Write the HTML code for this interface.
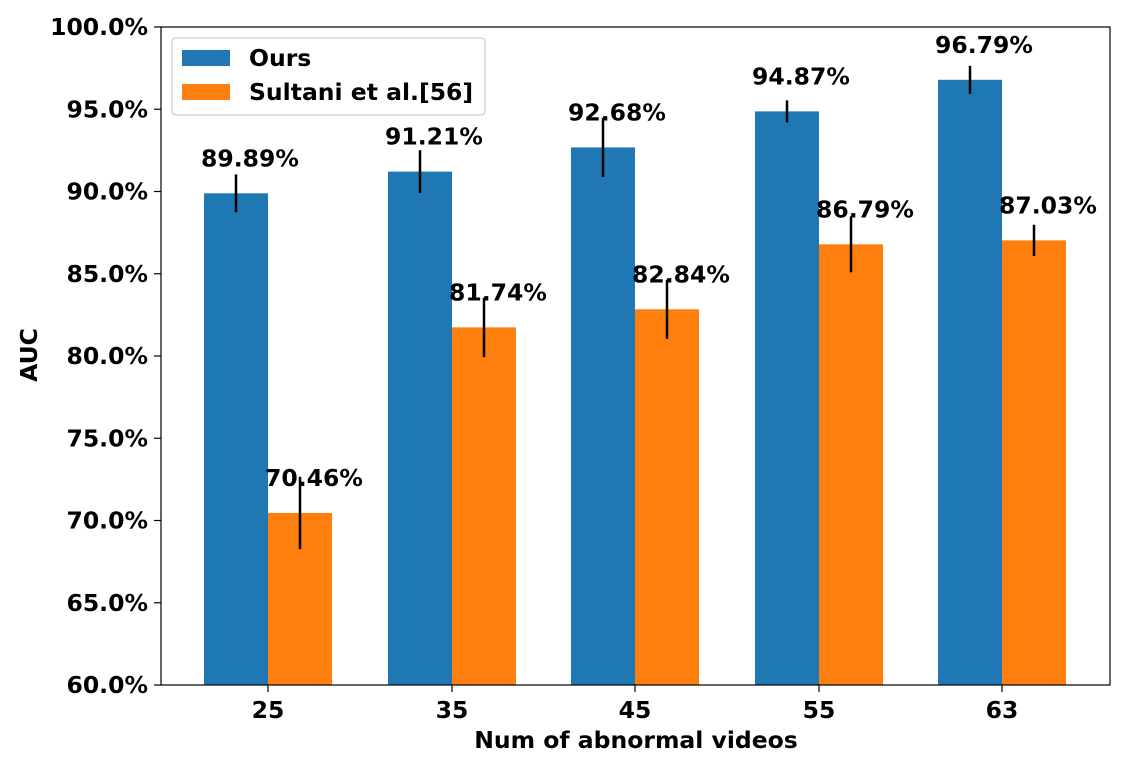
<!DOCTYPE html>
<html><head><meta charset="utf-8"><style>body{margin:0;background:#fff}svg{display:block}text{font-family:"DejaVu Sans","Liberation Sans",sans-serif;font-weight:bold}</style></head>
<body>
<svg width="1122" height="758" xmlns="http://www.w3.org/2000/svg">
<rect width="1122" height="758" fill="#fff"/>
<script>
var svg=document.querySelector('svg');var ns='http://www.w3.org/2000/svg';
function el(t,a,txt){var e=document.createElementNS(ns,t);for(var k in a)e.setAttribute(k,a[k]);if(txt)e.textContent=txt;svg.appendChild(e);return e;}
function Y(v){return 27+(100-v)*16.45;}
var FS='23.5';
var cx=[268,452,635,819,1002],labs=['25','35','45','55','63'];
var blue=[89.89,91.21,92.68,94.87,96.79],be=[1.15,1.3,1.8,0.67,0.85];
var org=[70.46,81.74,82.84,86.79,87.03],oe=[2.2,1.8,1.8,1.7,0.95];
for(var i=0;i<5;i++){
 el('rect',{x:cx[i]-64,y:Y(blue[i]),width:64,height:685-Y(blue[i]),fill:'#1f77b4'});
 el('rect',{x:cx[i],y:Y(org[i]),width:64,height:685-Y(org[i]),fill:'#ff7f0e'});
 el('line',{x1:cx[i]-32,x2:cx[i]-32,y1:Y(blue[i]+be[i]),y2:Y(blue[i]-be[i]),stroke:'#000','stroke-width':2.5});
 el('line',{x1:cx[i]+32,x2:cx[i]+32,y1:Y(org[i]+oe[i]),y2:Y(org[i]-oe[i]),stroke:'#000','stroke-width':2.5});
 el('text',{x:cx[i]-18,y:Y(blue[i])-27,'font-size':FS,'text-anchor':'middle'},blue[i].toFixed(2)+'%');
 el('text',{x:cx[i]+46,y:Y(org[i])-27,'font-size':FS,'text-anchor':'middle'},org[i].toFixed(2)+'%');
 el('line',{x1:cx[i],x2:cx[i],y1:685,y2:692,stroke:'#000','stroke-width':1.2});
 el('text',{x:cx[i],y:718,'font-size':FS,'text-anchor':'middle'},labs[i]);
}
for(var v=60;v<=100;v+=5){
 el('line',{x1:154,x2:161,y1:Y(v),y2:Y(v),stroke:'#000','stroke-width':1.2});
 el('text',{x:148,y:Y(v)+8,'font-size':FS,'text-anchor':'end'},v.toFixed(1)+'%');
}
el('rect',{x:161,y:27,width:949,height:658,fill:'none',stroke:'#000','stroke-width':1.2});
el('text',{x:636,y:748,'font-size':FS,'text-anchor':'middle'},'Num of abnormal videos');
el('text',{x:0,y:0,'font-size':FS,'text-anchor':'middle',transform:'translate(37,355) rotate(-90)'},'AUC');
el('rect',{x:172,y:38,width:313,height:77,rx:4,fill:'#fff','fill-opacity':0.8,stroke:'#ccc','stroke-width':1.2});
el('rect',{x:182,y:50,width:48,height:16,fill:'#1f77b4'});
el('rect',{x:182,y:84,width:48,height:16,fill:'#ff7f0e'});
el('text',{x:249,y:66,'font-size':FS},'Ours');
el('text',{x:249,y:100,'font-size':FS},'Sultani et al.[56]');
</script>
</svg>
</body></html>
